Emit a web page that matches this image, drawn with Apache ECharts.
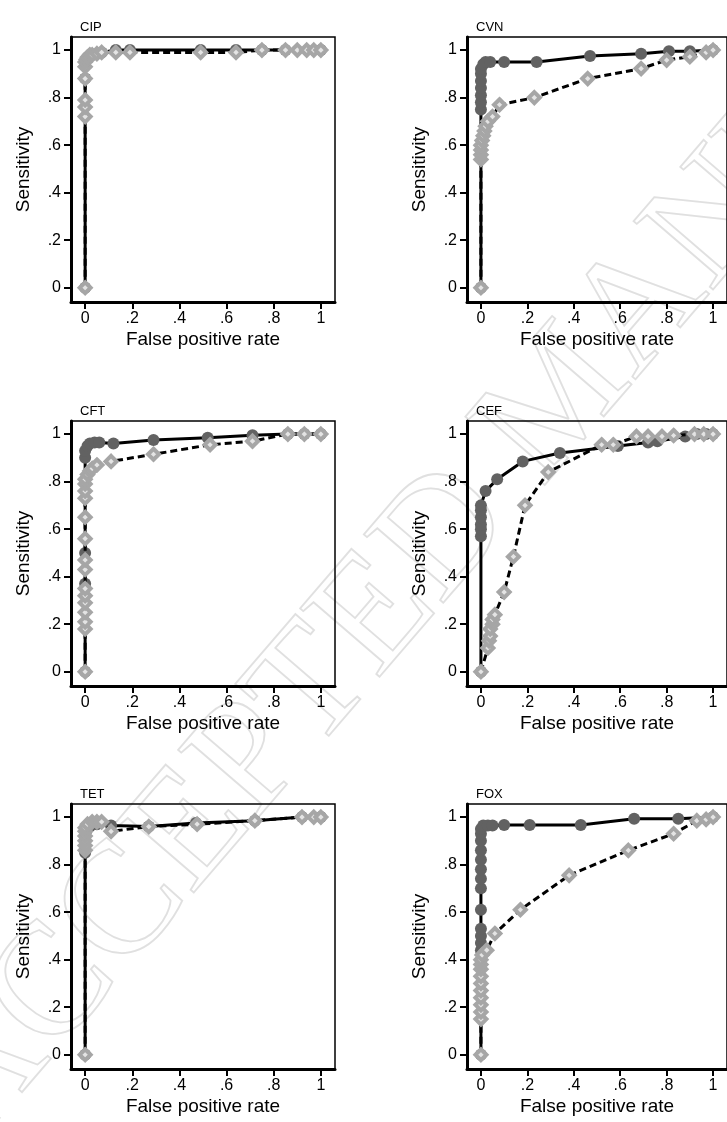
<!DOCTYPE html>
<html>
<head>
<meta charset="utf-8">
<script src="https://cdn.jsdelivr.net/npm/echarts@6/dist/echarts.min.js"></script>
<style>
  html, body { margin: 0; padding: 0; background: #fff; }
  #main { width: 727px; height: 1122px; }
</style>
</head>
<body>
<div id="main"></div>
<script>
// panel names, row by row
var panelNames = ['CIP', 'CVN', 'CFT', 'CEF', 'TET', 'FOX'];
var tickValues = [0, 0.2, 0.4, 0.6, 0.8, 1];

// solid line, dark circles
var cipSolidX = [0, 0, 0, 0.01, 0.03, 0.07, 0.13, 0.19, 0.49, 0.64, 0.75, 0.85, 1];
var cipSolidY = [0, 0.88, 0.95, 0.97, 0.98, 0.99, 1, 1, 1, 1, 1, 1, 1];
// dashed line, light diamonds
var cipDashX = [0, 0, 0, 0, 0, 0, 0, 0.005, 0.01, 0.02, 0.03, 0.05, 0.07, 0.13, 0.19, 0.49, 0.64, 0.75, 0.85, 0.9, 0.94, 0.97, 1];
var cipDashY = [0, 0.72, 0.76, 0.79, 0.88, 0.93, 0.95, 0.96, 0.97, 0.98, 0.98, 0.985, 0.99, 0.99, 0.99, 0.99, 0.99, 1, 1, 1, 1, 1, 1];

var cvnSolidX = [0, 0, 0, 0, 0, 0, 0, 0, 0.01, 0.02, 0.04, 0.1, 0.24, 0.47, 0.69, 0.81, 0.9, 1];
var cvnSolidY = [0, 0.75, 0.78, 0.81, 0.84, 0.87, 0.9, 0.92, 0.94, 0.95, 0.95, 0.95, 0.95, 0.975, 0.985, 0.995, 0.995, 1];
var cvnDashX = [0, 0, 0, 0, 0, 0.005, 0.01, 0.015, 0.02, 0.03, 0.05, 0.08, 0.23, 0.46, 0.69, 0.8, 0.9, 0.97, 1];
var cvnDashY = [0, 0.54, 0.56, 0.58, 0.6, 0.62, 0.64, 0.66, 0.68, 0.7, 0.72, 0.77, 0.8, 0.88, 0.922, 0.958, 0.972, 0.99, 1];

var cftSolidX = [0, 0, 0, 0, 0, 0.01, 0.02, 0.04, 0.06, 0.12, 0.29, 0.52, 0.71, 0.86, 0.93, 1];
var cftSolidY = [0, 0.37, 0.5, 0.9, 0.93, 0.95, 0.96, 0.965, 0.965, 0.96, 0.975, 0.985, 0.995, 1, 1, 1];
var cftDashX = [0, 0, 0, 0, 0, 0, 0, 0, 0, 0, 0, 0, 0, 0, 0, 0.01, 0.02, 0.03, 0.05, 0.11, 0.29, 0.53, 0.71, 0.86, 0.93, 1];
var cftDashY = [0, 0.18, 0.21, 0.25, 0.29, 0.32, 0.35, 0.43, 0.47, 0.56, 0.65, 0.73, 0.76, 0.79, 0.81, 0.83, 0.845, 0.855, 0.87, 0.885, 0.915, 0.955, 0.97, 1, 1, 1];

var cefSolidX = [0, 0, 0, 0, 0, 0, 0, 0.02, 0.07, 0.18, 0.34, 0.59, 0.72, 0.76, 0.88, 0.93, 0.97, 1];
var cefSolidY = [0, 0.57, 0.6, 0.62, 0.65, 0.68, 0.7, 0.76, 0.81, 0.885, 0.92, 0.95, 0.965, 0.97, 0.99, 1, 1, 1];
var cefDashX = [0, 0.03, 0.035, 0.04, 0.04, 0.05, 0.05, 0.06, 0.1, 0.14, 0.19, 0.29, 0.52, 0.57, 0.67, 0.72, 0.78, 0.83, 0.92, 0.96, 1];
var cefDashY = [0, 0.1, 0.13, 0.15, 0.18, 0.2, 0.22, 0.24, 0.335, 0.484, 0.7, 0.84, 0.955, 0.955, 0.99, 0.99, 0.99, 0.994, 1, 1, 1];

var tetSolidX = [0, 0, 0, 0.01, 0.02, 0.05, 0.11, 0.27, 0.47, 0.72, 0.92, 1];
var tetSolidY = [0, 0.85, 0.92, 0.95, 0.96, 0.97, 0.965, 0.96, 0.975, 0.985, 1, 1];
var tetDashX = [0, 0, 0, 0, 0, 0, 0, 0.01, 0.03, 0.05, 0.07, 0.11, 0.27, 0.475, 0.72, 0.92, 0.97, 1];
var tetDashY = [0, 0.86, 0.88, 0.9, 0.92, 0.94, 0.955, 0.97, 0.98, 0.98, 0.98, 0.94, 0.96, 0.97, 0.985, 1, 1, 1];

var foxSolidX = [0, 0, 0, 0, 0, 0, 0, 0, 0, 0, 0, 0, 0, 0, 0.01, 0.03, 0.05, 0.1, 0.21, 0.43, 0.66, 0.85, 1];
var foxSolidY = [0, 0.44, 0.47, 0.5, 0.53, 0.61, 0.7, 0.74, 0.78, 0.82, 0.86, 0.9, 0.93, 0.95, 0.965, 0.965, 0.965, 0.967, 0.967, 0.967, 0.993, 0.993, 1];
var foxDashX = [0, 0, 0, 0, 0, 0, 0, 0, 0, 0, 0, 0.005, 0.025, 0.06, 0.17, 0.38, 0.635, 0.83, 0.93, 0.97, 1];
var foxDashY = [0, 0.15, 0.18, 0.21, 0.24, 0.27, 0.3, 0.33, 0.36, 0.38, 0.4, 0.42, 0.44, 0.51, 0.61, 0.755, 0.86, 0.93, 0.985, 0.99, 1];

var solidX = [cipSolidX, cvnSolidX, cftSolidX, cefSolidX, tetSolidX, foxSolidX];
var solidY = [cipSolidY, cvnSolidY, cftSolidY, cefSolidY, tetSolidY, foxSolidY];
var dashX = [cipDashX, cvnDashX, cftDashX, cefDashX, tetDashX, foxDashX];
var dashY = [cipDashY, cvnDashY, cftDashY, cefDashY, tetDashY, foxDashY];

var FONT = '"Liberation Sans", Arial, Helvetica, sans-serif';
var colLeft = [71, 467];
var rowTop = [37, 421, 804];
var titleLeft = [75, 471];

function zip(xs, ys) {
	var out = [];
	for (var i = 0; i < xs.length; i++) out.push([xs[i], ys[i]]);
	return out;
}

function tickFmt(v) {
	if (v === 0) return '0';
	if (v === 1) return '1';
	return String(v).replace(/^0/, '');
}

var myChart = echarts.init(document.getElementById('main'));

var grids = [], xAxes = [], yAxes = [], titles = [], series = [];
for (var i = 0; i < 6; i++) {
	var c = i % 2, r = Math.floor(i / 2);
	grids.push({
		left: colLeft[c], top: rowTop[r], width: 264, height: 265,
		show: true, borderColor: '#000', borderWidth: 1.5
	});
	titles.push({
		text: panelNames[i], left: titleLeft[c], top: rowTop[r] - 21,
		textStyle: { fontSize: 13, fontWeight: 'normal', color: '#000', fontFamily: FONT }
	});
	xAxes.push({
		gridIndex: i, type: 'value', min: -0.06, max: 1.06,
		name: 'False positive rate', nameLocation: 'middle', nameGap: 28,
		nameTextStyle: { fontSize: 19, color: '#000', fontFamily: FONT },
		axisLine: { onZero: false, lineStyle: { color: '#000', width: 3 } },
		axisTick: { customValues: tickValues, length: 7, lineStyle: { color: '#000', width: 2 } },
		axisLabel: { customValues: tickValues, formatter: tickFmt, fontSize: 16, color: '#000', margin: 9, fontFamily: FONT },
		splitLine: { show: false }
	});
	yAxes.push({
		gridIndex: i, type: 'value', min: -0.06, max: 1.055,
		name: 'Sensitivity', nameLocation: 'middle', nameGap: 38,
		nameTextStyle: { fontSize: 19, color: '#000', fontFamily: FONT },
		axisLine: { onZero: false, lineStyle: { color: '#000', width: 3 } },
		axisTick: { customValues: tickValues, length: 7, lineStyle: { color: '#000', width: 2 } },
		axisLabel: { customValues: tickValues, formatter: tickFmt, fontSize: 16, color: '#000', margin: 10, fontFamily: FONT },
		splitLine: { show: false }
	});
	series.push({
		type: 'line', xAxisIndex: i, yAxisIndex: i,
		data: zip(solidX[i], solidY[i]),
		symbol: 'circle', symbolSize: 12,
		itemStyle: { color: '#626262' },
		lineStyle: { color: '#000', width: 3 },
		z: 2
	});
	series.push({
		type: 'line', xAxisIndex: i, yAxisIndex: i,
		data: zip(dashX[i], dashY[i]),
		symbol: 'diamond', symbolSize: 11,
		itemStyle: { color: '#e4e4e4', borderColor: '#a6a6a6', borderWidth: 4 },
		lineStyle: { color: '#000', width: 3, type: [7, 4] },
		z: 3
	});
}

var option = {
	animation: false,
	backgroundColor: '#fff',
	title: titles,
	grid: grids,
	xAxis: xAxes,
	yAxis: yAxes,
	series: series,
	graphic: [{
		type: 'text', x: 5, y: 1170, rotation: 0.86, z: -1, silent: true,
		style: {
			text: 'ACCEPTED MANUSCRIPT',
			font: '160px "Liberation Serif", "DejaVu Serif", serif',
			fill: 'none', stroke: '#e0e0e0', lineWidth: 1.8,
			textAlign: 'left', textVerticalAlign: 'bottom'
		}
	}]
};

myChart.setOption(option);
</script>
</body>
</html>
